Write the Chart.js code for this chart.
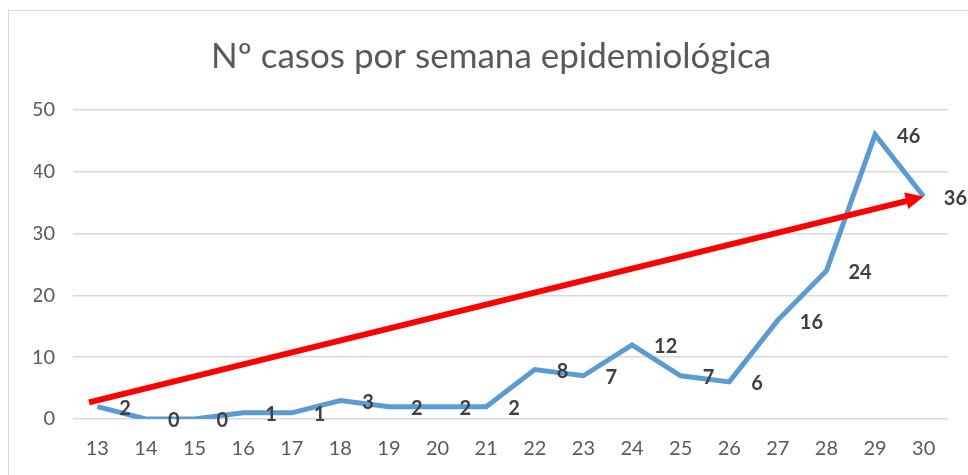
<!DOCTYPE html>
<html>
<head>
<meta charset="utf-8">
<script src="https://cdn.jsdelivr.net/npm/chart.js@4/dist/chart.umd.min.js"></script>
<style>
  body { margin: 0; background: #fff; }
  #marco { position: absolute; left: 8px; top: 10px; width: 1000px; height: 500px; border: 1px solid #d9d9d9; }
  #casos_semana { position: absolute; left: 0; top: 0; }
</style>
</head>
<body>
<div id="marco"></div>
<canvas id="casos_semana" width="968" height="475"></canvas>
<script>
const semanas = ['13', '14', '15', '16', '17', '18', '19', '20', '21', '22', '23', '24', '25', '26', '27', '28', '29', '30'];
const casos = [2, 0, 0, 1, 1, 3, 2, 2, 2, 8, 7, 12, 7, 6, 16, 24, 46, 36];
// flecha de tendencia: [indice de semana, casos]
const flecha_inicio = [-0.17, 2.7];
const flecha_fin = [17, 36];

const fuente = 'Lato, "Open Sans", sans-serif';

// etiquetas de datos a la derecha de cada punto
const plugin_etiquetas = {
    id: 'etiquetas',
    afterDatasetsDraw(chart) {
        const ctx = chart.ctx;
        const meta = chart.getDatasetMeta(0);
        ctx.save();
        ctx.font = 'bold 20px ' + fuente;
        ctx.fillStyle = '#404040';
        ctx.textAlign = 'left';
        ctx.textBaseline = 'middle';
        meta.data.forEach((p, i) => {
            const txt = String(casos[i]);
            const w = ctx.measureText(txt).width;
            const x = Math.min(p.x + 22, chart.width - w - 1);
            ctx.fillText(txt, x, p.y + 2);
        });
        ctx.restore();
    }
};

// flecha roja de tendencia
const plugin_flecha = {
    id: 'flecha',
    afterDatasetsDraw(chart) {
        const sx = chart.scales.x, sy = chart.scales.y;
        const x0 = sx.getPixelForValue(flecha_inicio[0]), y0 = sy.getPixelForValue(flecha_inicio[1]);
        const x1 = sx.getPixelForValue(flecha_fin[0]), y1 = sy.getPixelForValue(flecha_fin[1]);
        const ang = Math.atan2(y1 - y0, x1 - x0);
        const largo = 18, ancho = 8.5;
        const bx = x1 - largo * Math.cos(ang), by = y1 - largo * Math.sin(ang);
        const ctx = chart.ctx;
        ctx.save();
        ctx.strokeStyle = '#ff0000';
        ctx.fillStyle = '#ff0000';
        ctx.lineWidth = 6;
        ctx.beginPath();
        ctx.moveTo(x0, y0);
        ctx.lineTo(bx + 1, by);
        ctx.stroke();
        ctx.beginPath();
        ctx.moveTo(x1, y1);
        ctx.lineTo(bx - ancho * Math.sin(ang), by + ancho * Math.cos(ang));
        ctx.lineTo(bx + ancho * Math.sin(ang), by - ancho * Math.cos(ang));
        ctx.closePath();
        ctx.fill();
        ctx.restore();
    }
};

const data_casos = {
    labels: semanas,
    datasets: [{
        label: 'Nº casos',
        data: casos,
        borderColor: '#5b9bd5',
        borderWidth: 5,
        pointRadius: 0,
        tension: 0,
        borderJoinStyle: 'miter'
    }]
};

const config_casos = {
    type: 'line',
    data: data_casos,
    options: {
        responsive: false,
        animation: false,
        layout: { padding: { left: 34, right: 20, top: 0, bottom: 0 } },
        plugins: {
            legend: { display: false },
            tooltip: { enabled: false },
            title: {
                display: true,
                text: 'Nº casos por semana epidemiológica',
                color: '#595959',
                font: { family: fuente, size: 35, weight: 'normal', lineHeight: 1.2 },
                padding: { top: 36, bottom: 32 }
            }
        },
        scales: {
            x: {
                offset: true,
                grid: { display: false, drawTicks: false },
                border: { display: false },
                ticks: { color: '#595959', font: { family: fuente, size: 20 }, padding: 18, maxRotation: 0 },
                afterFit(s) { s.height = 56; }
            },
            y: {
                min: 0,
                max: 50,
                ticks: { stepSize: 10, color: '#595959', font: { family: fuente, size: 20 }, padding: 18 },
                grid: { color: '#d9d9d9', lineWidth: 1.5, drawTicks: false },
                border: { display: false },
                afterFit(s) { s.width = 39; }
            }
        }
    },
    plugins: [plugin_flecha, plugin_etiquetas]
};

const grafico_casos = new Chart(
    document.getElementById('casos_semana'),
    config_casos
);
</script>
</body>
</html>
